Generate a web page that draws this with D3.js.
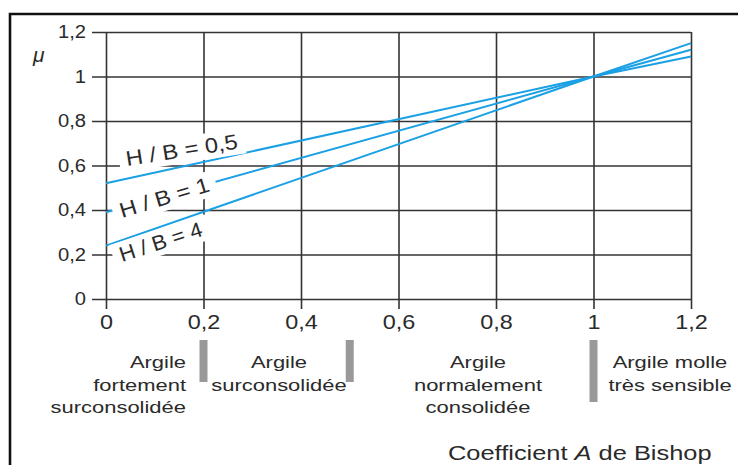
<!DOCTYPE html>
<html>
<head>
<meta charset="utf-8">
<script src="https://cdn.jsdelivr.net/npm/d3@7"></script>
<style>
  html, body { margin: 0; padding: 0; background: #fff; }
  svg { display: block; font-family: "Liberation Sans", Arial, Helvetica, sans-serif; }
</style>
</head>
<body>
<svg id="chart" width="738" height="465"></svg>
<script>
// Bishop coefficient A (abscissa) and correction factor μ for three H/B ratios
const aPoints = [0, 1, 1.2];
const hbRatios = ["0,5", "1", "4"];
const muHB05 = [0.52, 1.0, 1.09];
const muHB1 = [0.39, 1.0, 1.12];
const muHB4 = [0.24, 1.0, 1.15];
const xTicks = [0, 0.2, 0.4, 0.6, 0.8, 1, 1.2];
const yTicks = [0, 0.2, 0.4, 0.6, 0.8, 1, 1.2];
const zoneBounds = [0.2, 0.5, 1];
const zoneLabels = [
  ["Argile", "fortement", "surconsolidée"],
  ["Argile", "surconsolidée"],
  ["Argile", "normalement", "consolidée"],
  ["Argile molle", "très sensible"]
];
const xTitleParts = ["Coefficient ", "A", " de Bishop"];
const yTitle = "μ";

const series = [muHB05, muHB1, muHB4];

const svg = d3.select("#chart");
const ink = "#2a2a2a";
const blue = "#1aa0e4";

const x = d3.scaleLinear().domain([0, 1.2]).range([106, 691]);
const y = d3.scaleLinear().domain([0, 1.2]).range([299, 32]);
const fmt = d => String(d).replace(".", ",");

// widen glyphs horizontally by factor k
function stretch(sel, k) {
  sel.each(function () {
    const w = this.getComputedTextLength();
    d3.select(this).attr("textLength", w * k).attr("lengthAdjust", "spacingAndGlyphs");
  });
}

// outer frame
svg.append("path")
  .attr("d", "M10,475V14H748")
  .attr("fill", "none")
  .attr("stroke", "#111")
  .attr("stroke-width", 2.6);

// grid + axes
const gx = svg.append("g")
  .attr("transform", `translate(0,${y(0) + 10})`)
  .call(d3.axisBottom(x).tickValues(xTicks).tickFormat(fmt)
    .tickSize(-(y(0) + 10 - y(1.2))).tickPadding(6));
const gy = svg.append("g")
  .attr("transform", `translate(${x(0) - 14},0)`)
  .call(d3.axisLeft(y).tickValues(yTicks).tickFormat(fmt)
    .tickSize(-(x(1.2) - x(0) + 14)).tickPadding(6));

[gx, gy].forEach(g => {
  g.select(".domain").remove();
  g.selectAll(".tick line").attr("stroke", "#333").attr("stroke-width", 1.6);
  g.selectAll(".tick text").attr("fill", ink).attr("font-family", null);
});
gx.selectAll(".tick text").attr("font-size", 20).call(stretch, 1.17);
gy.selectAll(".tick text").attr("font-size", 18).call(stretch, 1.12);

// μ curves
const line = d3.line().x((d, i) => x(aPoints[i])).y(d => y(d));
svg.append("g").selectAll("path")
  .data(series)
  .join("path")
  .attr("d", d => line(d))
  .attr("fill", "none")
  .attr("stroke", blue)
  .attr("stroke-width", 2);

// H/B labels with white backing boxes
const labelPlace = [
  { px: 127, py: 166, rot: -9, len: 113 },
  { px: 122, py: 218, rot: -17, len: 93 },
  { px: 122, py: 262, rot: -18, len: 86 }
];
hbRatios.forEach((r, i) => {
  const p = labelPlace[i];
  const g = svg.append("g").attr("transform", `translate(${p.px},${p.py}) rotate(${p.rot})`);
  const t = g.append("text")
    .attr("font-size", 21)
    .attr("fill", ink)
    .attr("textLength", p.len)
    .attr("lengthAdjust", "spacingAndGlyphs")
    .text(`H / B = ${r}`);
  const b = t.node().getBBox();
  g.insert("rect", "text")
    .attr("x", b.x - 7).attr("y", b.y - 1)
    .attr("width", b.width + 14).attr("height", b.height + 3)
    .attr("fill", "#fff");
});

// y title
svg.append("text")
  .attr("x", 33).attr("y", 62)
  .attr("font-size", 21)
  .attr("font-style", "italic")
  .attr("fill", ink)
  .text(yTitle);

// zone separators
const barBottom = [382, 382, 402];
svg.append("g").selectAll("rect")
  .data(zoneBounds)
  .join("rect")
  .attr("x", d => x(d) - 4)
  .attr("y", 340)
  .attr("width", 8)
  .attr("height", (d, i) => barBottom[i] - 340)
  .attr("fill", "#999");

// zone names
const zoneAnchor = [
  { px: 186, anchor: "end" },
  { px: 279, anchor: "middle" },
  { px: 478, anchor: "middle" },
  { px: 670, anchor: "middle" }
];
const lineY = [368, 391, 413];
zoneLabels.forEach((lines, i) => {
  const a = zoneAnchor[i];
  svg.append("g").selectAll("text")
    .data(lines)
    .join("text")
    .attr("x", a.px)
    .attr("y", (d, j) => lineY[j])
    .attr("text-anchor", a.anchor)
    .attr("font-size", 16.5)
    .attr("fill", ink)
    .text(d => d)
    .call(stretch, 1.33);
});

// x title
const title = svg.append("text")
  .attr("transform", "translate(448,460) scale(1.27,1)")
  .attr("font-size", 20)
  .attr("fill", ink);
title.selectAll("tspan")
  .data(xTitleParts)
  .join("tspan")
  .attr("font-style", (d, i) => i === 1 ? "italic" : null)
  .text(d => d);
</script>
</body>
</html>
